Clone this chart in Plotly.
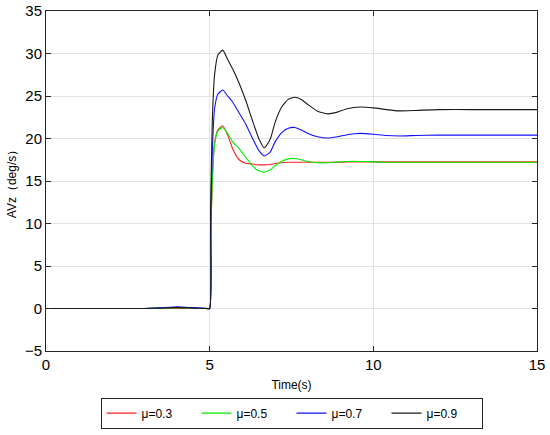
import plotly.graph_objects as go

t = [0, 3.0, 3.5, 4.0, 4.5, 4.9, 5.0, 5.03, 5.08, 5.15, 5.25, 5.4, 5.55, 5.7, 5.9, 6.1, 6.3, 6.5, 6.67,
     6.85, 7.0, 7.2, 7.4, 7.6, 7.8, 8.0, 8.3, 8.6, 8.9, 9.2, 9.6, 10.0, 10.4, 10.8, 11.3, 12, 13, 14, 15]

mu03 = [0, 0, 0.03, 0.06, 0.03, 0, 0, 8, 15, 19.5, 21.0, 21.5, 20.4, 18.8, 17.5, 17.1, 17.0, 16.9, 16.9,
        16.95, 17.05, 17.15, 17.2, 17.2, 17.2, 17.2, 17.2, 17.2, 17.2, 17.25, 17.25, 17.25, 17.25, 17.25, 17.25, 17.25, 17.25, 17.25, 17.25]
mu05 = [0, 0, 0.05, 0.1, 0.05, 0, 0, 8, 15, 19.3, 20.9, 21.3, 20.6, 19.6, 18.8, 17.8, 16.8, 16.2, 16.05,
        16.3, 16.8, 17.3, 17.6, 17.65, 17.5, 17.3, 17.15, 17.15, 17.25, 17.3, 17.3, 17.25, 17.2, 17.2, 17.2, 17.2, 17.2, 17.2, 17.2]
mu07 = [0, 0, 0.08, 0.2, 0.1, 0.02, 0, 10, 18.5, 23.5, 25.2, 25.7, 25.0, 24.3, 23.0, 21.7, 20.1, 18.6, 17.95,
        18.4, 19.6, 20.7, 21.2, 21.3, 21.0, 20.6, 20.2, 20.05, 20.2, 20.45, 20.6, 20.5, 20.35, 20.3, 20.35, 20.4, 20.4, 20.4, 20.4]
mu09 = [0, 0, 0.05, 0.1, 0.05, 0, 0, 12, 22, 27.5, 29.8, 30.4, 29.3, 28.2, 26.5, 24.5, 22.2, 20.0, 18.9,
        19.9, 21.9, 23.7, 24.6, 24.85, 24.6, 24.0, 23.2, 22.9, 23.1, 23.5, 23.7, 23.6, 23.4, 23.25, 23.3, 23.4, 23.4, 23.4, 23.4]

names = ["μ=0.3", "μ=0.5", "μ=0.7", "μ=0.9"]
series = [mu03, mu05, mu07, mu09]
colors = ["#ff2020", "#00ee00", "#1010ff", "#1a1a1a"]

fig = go.Figure()
for n, s, c in zip(names, series, colors):
    fig.add_trace(go.Scatter(x=t, y=s, mode="lines", name=n,
                             line=dict(color=c, width=1.1, shape="spline", smoothing=0.5)))

axis_common = dict(
    showgrid=True, gridcolor="#e3e3e3", gridwidth=1,
    showline=True, linecolor="#262626", linewidth=1, mirror="ticks",
    ticks="inside", ticklen=5, tickcolor="#262626",
    zeroline=False, dtick=5, automargin=False,
    tickfont=dict(family="Liberation Sans, Arial", size=15, color="#000"),
)

fig.update_layout(
    width=550, height=435,
    margin=dict(l=46, r=13, t=11, b=84, autoexpand=False),
    plot_bgcolor="white", paper_bgcolor="white",
    xaxis=dict(range=[0, 15], **axis_common,
               title=dict(text="Time(s)", font=dict(family="Liberation Sans, Arial", size=12, color="#000"), standoff=8)),
    yaxis=dict(range=[-5, 35], **axis_common,
               title=dict(text="AVz（deg/s）", font=dict(family="Liberation Sans, Arial", size=12, color="#000"), standoff=5)),
    legend=dict(orientation="h", x=0.5, xanchor="center", y=-0.137, yanchor="top",
                bordercolor="#262626", borderwidth=1,
                font=dict(family="Liberation Sans, Arial", size=12, color="#000"),
                entrywidth=50, entrywidthmode="pixels", tracegroupgap=0),
    showlegend=True,
)

fig.write_html("out.html", config={"displayModeBar": False},
               post_script="document.body.style.margin='0';document.body.style.padding='0';")
